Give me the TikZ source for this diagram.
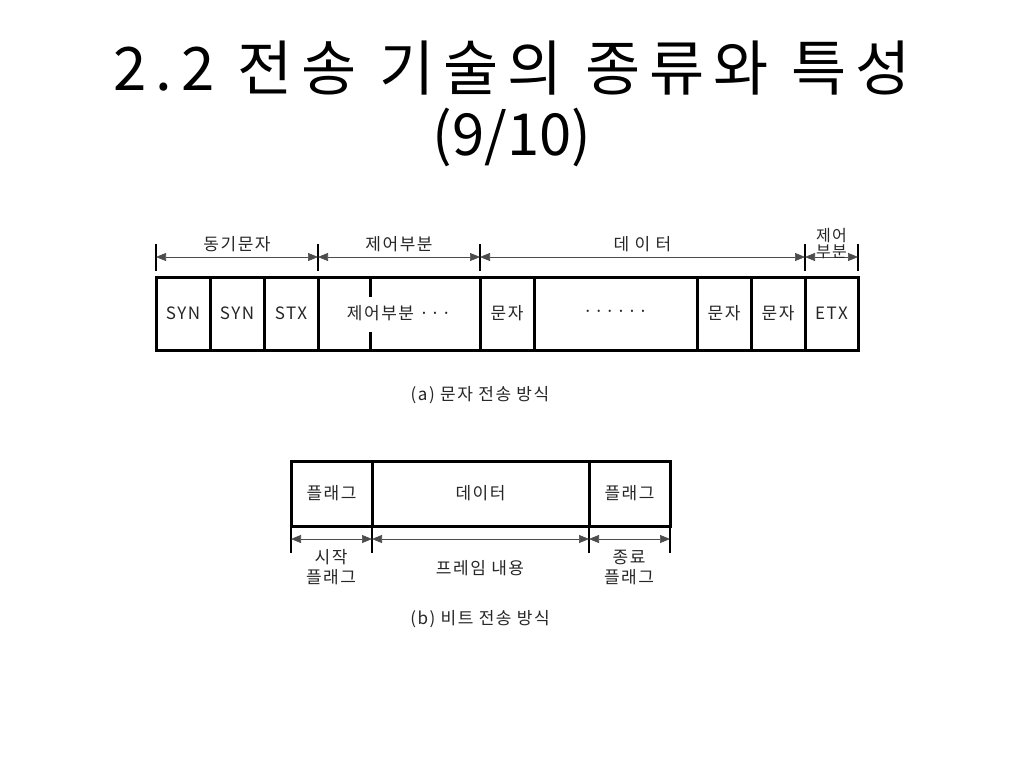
\documentclass[tikz,border=0pt]{standalone}
\usepackage{fontspec}
\setmainfont{Noto Sans CJK KR}[LetterSpace=9]
\usetikzlibrary{arrows.meta}

\begin{document}
\begin{tikzpicture}[x=1pt,y=-1pt,
  cell/.style={draw,line width=3pt,minimum height=73pt,inner sep=0pt,font=\fontsize{17}{19}\selectfont,text=black!85},
  bcell/.style={cell,minimum height=65pt},
  dim/.style={line width=0.7pt,black!70,{Triangle[length=10pt,width=8pt]}-{Triangle[length=10pt,width=8pt]}},
  tick/.style={line width=1.8pt},
  lbl/.style={font=\fontsize{17}{20}\selectfont,text=black!85,align=center},
  head/.style={font=\fontsize{60}{68}\selectfont\addfontfeature{LetterSpace=15}}]
\useasboundingbox (0,0) rectangle (1024,768);
% title
\node[head] (title) at (512,68) {2.2 전송 기술의 종류와 특성};
\node[font=\fontsize{58}{68}\selectfont\addfontfeature{LetterSpace=0}] (page) at (512,137) {(9/10)};

% (a) character transmission
\node[cell,minimum width=54pt] (syn1) at (183,313.5) {SYN};
\node[cell,minimum width=54pt] (syn2) at (237,313.5) {SYN};
\node[cell,minimum width=54pt] (stx) at (291,313.5) {STX};
\node[cell,minimum width=162pt] (ctl) at (399,313.5) {제어부분 ···};
\draw[line width=3pt] ([xshift=54pt,yshift=-1.5pt]ctl.north west) -- ++(0,20);
\draw[line width=3pt] ([xshift=54pt,yshift=1.5pt]ctl.south west) -- ++(0,-18);
\node[cell,minimum width=54pt] (ch1) at (507,313.5) {문자};
\node[cell,minimum width=163pt] (dots) at (615.5,313.5) {······};
\node[cell,minimum width=54pt] (ch2) at (724,313.5) {문자};
\node[cell,minimum width=54pt] (ch3) at (778,313.5) {문자};
\node[cell,minimum width=53pt] (etx) at (831.5,313.5) {ETX};

\foreach \n/\x in {a0/156,a1/318,a2/480,a3/805,a4/858} {
  \coordinate (\n) at (\x,257);
  \draw[tick] (\x,244) -- (\x,271);
}
\draw[dim] (a0) -- (a1) node[lbl,midway,above=1pt] (sync) {동기문자};
\draw[dim] (a1) -- (a2) node[lbl,midway,above=1pt] (ctll) {제어부분};
\draw[dim] (a2) -- (a3) node[lbl,midway,above=1pt] (data) {데 이 터};
\draw[dim] (a3) -- (a4) node[lbl,midway,above=-5pt,font=\fontsize{16}{16}\selectfont] (ctl2) {제어\\부분};
\node[lbl] (capa) at (480,395) {(a) 문자 전송 방식};

% (b) bit transmission
\node[bcell,minimum width=81pt] (flag1) at (331.5,493.5) {플래그};
\node[bcell,minimum width=217pt] (body) at (480.5,493.5) {데이터};
\node[bcell,minimum width=81pt] (flag2) at (629.5,493.5) {플래그};

\foreach \n/\x in {b0/291,b1/372,b2/589,b3/670} {
  \coordinate (\n) at (\x,539);
  \draw[tick] (\x,526) -- (\x,553);
}
\draw[dim] (b0) -- (b1);
\draw[dim] (b1) -- (b2);
\draw[dim] (b2) -- (b3);
\node[lbl] (start) at (331,567) {시작\\플래그};
\node[lbl] (frame) at (480,568) {프레임 내용};
\node[lbl] (end) at (629,567) {종료\\플래그};
\node[lbl] (capb) at (480,619) {(b) 비트 전송 방식};
\end{tikzpicture}
\end{document}
